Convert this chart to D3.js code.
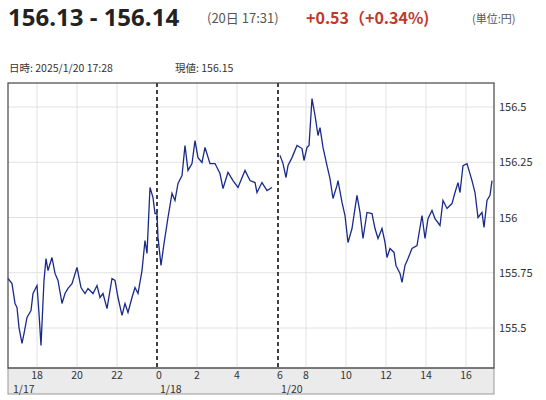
<!DOCTYPE html>
<html><head><meta charset="utf-8">
<script src="https://cdn.jsdelivr.net/npm/d3@7"></script>
<style>body{margin:0;background:#fff;font-family:"Noto Sans CJK JP","Noto Sans",sans-serif}</style>
</head><body><svg id="c" width="546" height="400"></svg>
<script>
// time axis: hours from 1/17 00:00, weekend gap collapsed (1/20 hour h -> h+23.45)
const times = [16.55,16.75,16.9,17.0,17.1,17.25,17.35,17.5,17.7,17.8,18.0,18.1,18.2,18.35,18.45,18.55,18.75,18.9,19.05,19.25,19.4,19.55,19.75,20.0,20.2,20.4,20.55,20.8,21.0,21.15,21.3,21.5,21.75,21.9,22.05,22.25,22.4,22.55,22.75,22.9,23.05,23.25,23.4,23.5,23.65,23.8,23.9,
24.0,24.05,24.2,24.35,24.55,24.75,24.9,25.05,25.25,25.4,25.55,25.75,25.9,26.05,26.25,26.4,26.65,26.9,27.15,27.3,27.55,27.8,28.05,28.4,28.65,28.9,29.0,29.25,29.5,29.75];
const values = [155.724,155.701,155.611,155.593,155.502,155.430,155.475,155.548,155.579,155.656,155.692,155.566,155.421,155.715,155.814,155.760,155.819,155.747,155.715,155.611,155.656,155.679,155.701,155.774,155.683,155.656,155.679,155.656,155.692,155.638,155.656,155.588,155.724,155.715,155.638,155.557,155.611,155.570,155.638,155.683,155.656,155.760,155.896,155.837,156.136,156.090,156.018,
156.018,155.910,155.783,155.882,156.0,156.109,156.077,156.154,156.190,156.326,156.213,156.244,156.348,156.271,156.249,156.317,156.244,156.244,156.199,156.131,156.204,156.167,156.136,156.213,156.167,156.158,156.113,156.158,156.122,156.136];
const times2 = [30.15,30.3,30.45,30.55,30.75,31.0,31.25,31.35,31.5,31.6,31.75,31.9,32.05,32.15,32.3,32.5,32.65,32.8,33.0,33.05,33.25,33.4,33.55,33.75,33.9,34.0,34.15,34.3,34.5,34.75,34.9,35.05,35.25,35.4,35.5,35.65,35.85,35.95,36.15,36.25,36.4,36.55,36.75,37.0,37.25,37.4,37.55,37.75,37.9,38.15,38.3,38.5,38.75,38.9,39.05,39.15,39.3,39.5,39.75,39.9,40.05,40.25,40.35,40.5,40.65,40.75];
const values2 = [156.281,156.244,156.181,156.235,156.271,156.326,156.312,156.258,156.317,156.326,156.538,156.462,156.371,156.407,156.317,156.235,156.176,156.086,156.145,156.167,156.068,156.009,155.887,155.950,156.041,156.100,156.023,155.905,156.023,156.018,155.950,155.905,155.950,155.887,155.819,155.860,155.842,155.783,155.747,155.706,155.783,155.814,155.860,155.873,156.009,155.905,155.995,156.032,155.995,155.964,156.077,156.041,156.063,156.113,156.158,156.113,156.235,156.244,156.167,156.113,156.0,156.023,155.955,156.077,156.100,156.167];
const gridTimes = [18,20,22,26,28,31.45,33.45,35.45,37.45,39.45];
const gridLabels = ["18","20","22","2","4","8","10","12","14","16"];
const sepTimes = [24,30.05];
const sepLabels = ["0","6"];
const dateTimes = [16.55,24,30.05];
const dateLabels = ["1/17","1/18","1/20"];
const yTicks = [155.5,155.75,156,156.25,156.5];
const yLabels = ["155.5","155.75","156","156.25","156.5"];

const svg = d3.select("#c");
const L=8,R=494,T=83,B=368;
const x = d3.scaleLinear().domain([16.55,40.85]).range([L,R]);
const y = d3.scaleLinear().domain([155.5,156.5]).range([328,107]);

svg.append("text").attr("x",8).attr("y",26).attr("font-size",24).attr("font-weight","bold").attr("fill","#222").attr("font-family","'Open Sans','Noto Sans',sans-serif").text("156.13 - 156.14");
svg.append("text").attr("x",207).attr("y",23).attr("font-size",13).attr("fill","#555").text("(20日 17:31)");
svg.append("text").attr("x",306).attr("y",24).attr("font-size",16).attr("font-weight","bold").attr("fill","#c0392b").text("+0.53（+0.34%)");
svg.append("text").attr("x",472).attr("y",23).attr("font-size",11).attr("fill","#555").text("(単位:円)");
svg.append("text").attr("x",9).attr("y",72).attr("font-size",10.5).attr("fill","#333").text("日時: 2025/1/20  17:28");
svg.append("text").attr("x",175).attr("y",72).attr("font-size",10.5).attr("fill","#333").text("現値: 156.15");

svg.append("rect").attr("x",L).attr("y",B).attr("width",R-L).attr("height",26).attr("fill","#ebebeb").attr("stroke","#999");
svg.selectAll(".gx").data(gridTimes).join("line").attr("x1",d=>x(d)).attr("x2",d=>x(d)).attr("y1",T).attr("y2",B).attr("stroke","#e2e2e2");
svg.selectAll(".gy").data(yTicks).join("line").attr("x1",L).attr("x2",R).attr("y1",d=>y(d)).attr("y2",d=>y(d)).attr("stroke","#e2e2e2");
svg.selectAll(".sep").data(sepTimes).join("line").attr("x1",d=>x(d)).attr("x2",d=>x(d)).attr("y1",T).attr("y2",B).attr("stroke","#111").attr("stroke-width",1.6).attr("stroke-dasharray","4,3");
const line = d3.line().x(d=>x(d[0])).y(d=>y(d[1]));
const seg1 = times.map((t,i)=>[t,values[i]]);
const seg2 = times2.map((t,i)=>[t,values2[i]]);
[seg1,seg2].forEach(s=>svg.append("path").datum(s).attr("d",line).attr("fill","none").attr("stroke","#1a2a8a").attr("stroke-width",1.3));
svg.append("rect").attr("x",L).attr("y",T).attr("width",R-L).attr("height",B-T).attr("fill","none").attr("stroke","#444").attr("stroke-width",1.2);
svg.selectAll(".xl").data(gridTimes).join("text").attr("x",d=>x(d)).attr("y",379).attr("text-anchor","middle").attr("font-size",10.5).attr("fill","#333").text((d,i)=>gridLabels[i]);
svg.selectAll(".sl").data(sepTimes).join("text").attr("x",d=>x(d)+2).attr("y",379).attr("text-anchor","middle").attr("font-size",10.5).attr("fill","#333").text((d,i)=>sepLabels[i]);
svg.selectAll(".dl").data(dateTimes).join("text").attr("x",(d,i)=>x(d)+(i?3:5)).attr("y",393).attr("font-size",10.5).attr("fill","#333").text((d,i)=>dateLabels[i]);
svg.selectAll(".yl").data(yTicks).join("text").attr("x",R+5).attr("y",d=>y(d)+4).attr("font-size",11).attr("fill","#333").text((d,i)=>yLabels[i]);
</script></body></html>
